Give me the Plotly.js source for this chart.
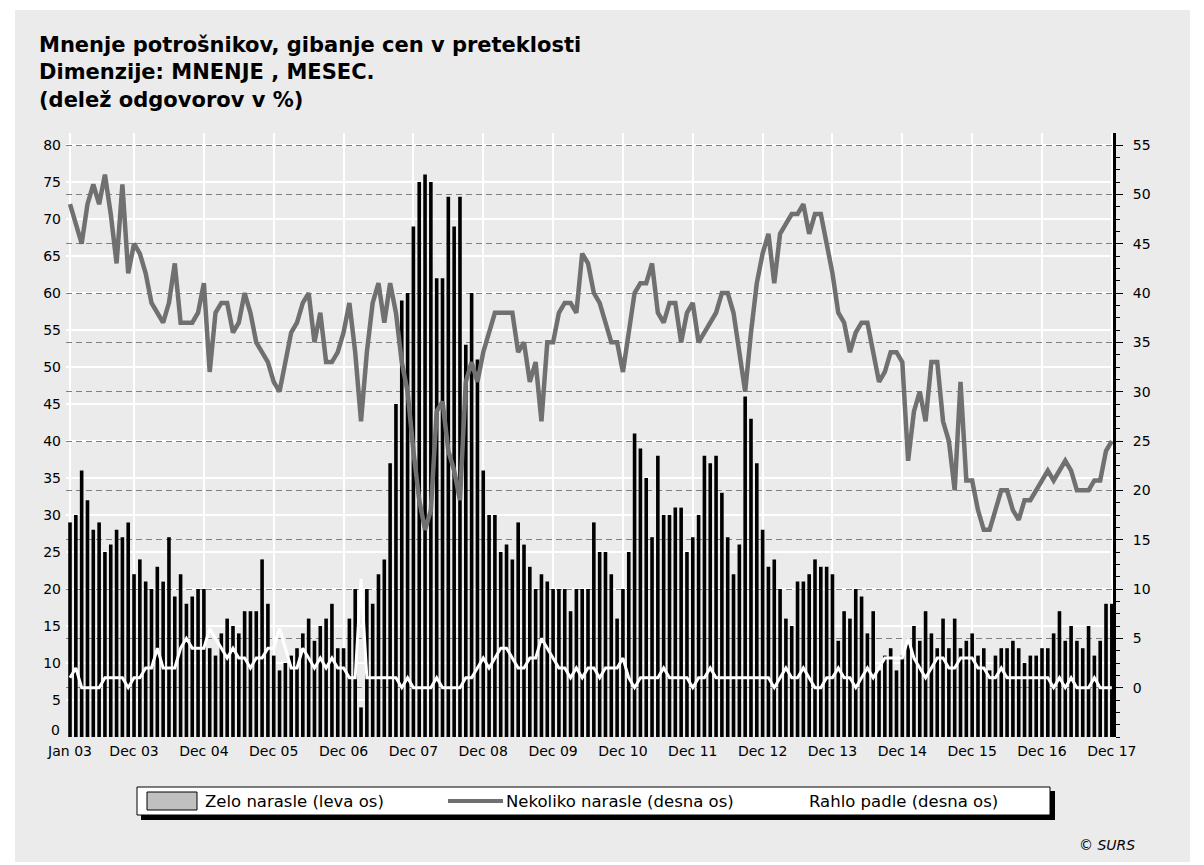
<!DOCTYPE html>
<html>
<head>
<meta charset="utf-8">
<script src="https://cdn.plot.ly/plotly-3.0.1.min.js"></script>
<style>html,body{margin:0;padding:0;background:#ffffff;}</style>
</head>
<body>
<div id="chart" style="width:1204px;height:865px;"></div>
<script>
// ---- Data (monthly, Jan 2003 – Dec 2017) ----
const zeloNarasle = [
  29,30,36,32,28,29,25,26,28,27,29,22,24,21,20,23,21,27,19,22,18,
  19,20,20,
  12,11,14,16,15,14,17,17,17,24,18,11,9,10,11,12,14,16,13,15,16,18,12,
  12,16,20,4,20,18,22,24,37,45,59,60,69,75,76,75,62,62,73,69,73,53,60,51,36,30,
  30,25,26,24,29,26,23,20,22,21,20,20,20,17,20,20,20,29,25,25,22,16,20,25,41,39,
  35,27,38,30,30,31,31,25,27,30,38,37,38,33,27,22,26,46,43,37,28,23,24,20,16,15,
  21,21,22,24,23,23,22,13,17,16,20,19,14,17,9,11,12,9,11,13,15,13,17,14,12,
  16,12,16,12,13,14,11,12,9,11,12,12,13,12,10,11,11,12,12,14,17,13,15,13,12,15,11,13,18,18
];
const nekolikoNarasle = [
  49,47,45,49,51,49,52,48,43,51,42,45,44,42,39,38,37,39,43,37,37,
  37,38,41,32,38,39,39,36,37,40,38,35,34,33,31,30,33,36,37,39,40,35,38,33,33,34,
  36,39,34,27,34,39,41,37,41,38,33,30,24,19,16,18,28,29,24,22,19,31,33,31,34,36,
  38,38,38,38,34,35,31,33,27,35,35,38,39,39,38,44,43,40,39,37,35,35,32,36,40,
  41,41,43,38,37,39,39,35,38,39,35,36,37,38,40,40,38,34,30,36,41,44,46,41,46,47,
  48,48,49,46,48,48,45,42,38,37,34,36,37,37,34,31,32,34,34,33,23,28,30,27,33,33,
  27,25,20,31,21,21,18,16,16,18,20,20,18,17,19,19,20,21,22,21,22,23,22,20,20,20,21,21,24,25
];
const rahloPadle = [
  1,2,0,0,0,0,1,1,1,1,0,1,1,2,2,4,2,2,2,4,5,
  4,4,4,6,5,4,3,4,3,3,2,3,3,4,4,6,4,2,2,4,3,2,3,2,3,2,
  2,1,1,11,1,1,1,1,1,1,0,1,0,0,0,0,1,0,0,0,0,1,1,2,3,2,
  3,4,4,3,2,2,3,3,5,4,3,2,2,1,2,1,2,2,1,2,2,2,3,1,0,
  1,1,1,1,2,1,1,1,1,0,1,1,2,1,1,1,1,1,1,1,1,1,1,0,1,2,
  1,1,2,1,0,0,1,1,2,1,1,0,1,2,1,2,3,3,3,3,5,3,2,1,2,3,
  3,2,2,3,3,3,2,2,1,1,2,1,1,1,1,1,1,1,1,0,1,0,1,0,0,0,1,0,0,0
];
const tickMonths = [0,11,23,35,47,59,71,83,95,107,119,131,143,155,167,179];
const tickLabels = ["Jan 03","Dec 03","Dec 04","Dec 05","Dec 06","Dec 07","Dec 08","Dec 09",
                    "Dec 10","Dec 11","Dec 12","Dec 13","Dec 14","Dec 15","Dec 16","Dec 17"];
const leftTicks = [5,10,15,20,25,30,35,40,45,50,55,60,65,70,75,80];
const leftZeroLabel = "0";
const rightTicks = [0,5,10,15,20,25,30,35,40,45,50,55];
const seriesNames = ["Zelo narasle (leva os)","Nekoliko narasle (desna os)","Rahlo padle (desna os)"];
const titleLines = ["Mnenje potrošnikov, gibanje cen v preteklosti","Dimenzije: MNENJE , MESEC.","(delež odgovorov v %)"];

const monthIdx = zeloNarasle.map((_, i) => i);

// ---- Layout geometry (pixels) ----
const W = 1204, H = 865;
const PL = 66, PR = 1113, PT = 133, PB = 737;
const FONT = "DejaVu Sans, Arial, sans-serif";
const px = v => (v - PL) / (PR - PL);
const py = v => (PB - v) / (PB - PT);

const traces = [
  {type:'bar', x: monthIdx, y: zeloNarasle, name: seriesNames[0], yaxis:'y',
   marker:{color:'#000000', line:{width:0}}, width:0.62, showlegend:false, hoverinfo:'y'},
  {type:'scatter', mode:'lines', x: monthIdx, y: nekolikoNarasle, name: seriesNames[1], yaxis:'y2',
   line:{color:'#707070', width:4.5}, showlegend:false},
  {type:'scatter', mode:'lines', x: monthIdx, y: rahloPadle, name: seriesNames[2], yaxis:'y2',
   line:{color:'#ffffff', width:3}, showlegend:false}
];

const shapes = [
  // outer grey panel
  {type:'rect', xref:'paper', yref:'paper', x0:px(15), x1:px(1190), y0:py(862), y1:py(10),
   fillcolor:'#ebebeb', line:{width:0}, layer:'below'},
  // legend shadow + box
  {type:'rect', xref:'paper', yref:'paper', x0:px(141), x1:px(1055), y0:py(820), y1:py(791),
   fillcolor:'#000000', line:{width:0}},
  {type:'rect', xref:'paper', yref:'paper', x0:px(137), x1:px(1050), y0:py(815), y1:py(787),
   fillcolor:'#ffffff', line:{color:'#000000', width:1}},
  // legend symbols
  {type:'rect', xref:'paper', yref:'paper', x0:px(147), x1:px(197), y0:py(810), y1:py(792),
   fillcolor:'#c0c0c0', line:{color:'#000000', width:1}},
  {type:'line', xref:'paper', yref:'paper', x0:px(448), x1:px(503), y0:py(801), y1:py(801),
   line:{color:'#707070', width:4}},
  {type:'line', xref:'paper', yref:'paper', x0:px(750), x1:px(805), y0:py(801), y1:py(801),
   line:{color:'#ffffff', width:3}}
];

const legFont = {family:FONT, size:16.5, color:'#000'};
const annotations = [
  {xref:'paper', yref:'paper', x:px(203), y:py(801), xanchor:'left', yanchor:'middle', showarrow:false,
   text:seriesNames[0], font:legFont},
  {xref:'paper', yref:'paper', x:px(504), y:py(801), xanchor:'left', yanchor:'middle', showarrow:false,
   text:seriesNames[1], font:legFont},
  {xref:'paper', yref:'paper', x:px(807), y:py(801), xanchor:'left', yanchor:'middle', showarrow:false,
   text:seriesNames[2], font:legFont},
  {xref:'paper', yref:'paper', x:px(1137), y:py(845), xanchor:'right', yanchor:'middle', showarrow:false,
   text:'<i>© SURS</i>', font:{family:FONT, size:14, color:'#000'}},
  // left-axis "0" label, lifted slightly (as in the reference) so it clears "Jan 03"
  {xref:'paper', yref:'y', x:0, y:0, xanchor:'right', yanchor:'bottom', xshift:-4, yshift:-3,
   showarrow:false, text:leftZeroLabel, font:{family:FONT, size:14, color:'#000'}}
];

const layout = {
  width: W, height: H,
  paper_bgcolor:'#ffffff', plot_bgcolor:'#dcdcdc',
  margin:{l:PL, r:W-PR, t:PT, b:H-PB, pad:0},
  title:{text: titleLines.join('<br>'), xref:'container', yref:'container',
         x: 39/W, xanchor:'left', y: 1 - 52/H, yanchor:'top',
         font:{family:FONT, size:21, color:'#000', weight:'bold'}},
  bargap:0.3,
  xaxis:{range:[-0.69, 179.2], tickmode:'array', tickvals:tickMonths, ticktext:tickLabels,
         showgrid:true, gridcolor:'#ffffff', gridwidth:2, zeroline:false, showline:false,
         ticks:'', ticklabelstandoff:4, tickfont:{family:FONT, size:14, color:'#000'}, fixedrange:true},
  yaxis:{range:[0, 81.62], tickmode:'array', tickvals:leftTicks, showgrid:true,
         gridcolor:'#ffffff', gridwidth:2, zeroline:false, showline:false, ticks:'',
         ticklabelstandoff:4, tickfont:{family:FONT, size:14, color:'#000'}},
  yaxis2:{overlaying:'y', side:'right', range:[-5, 56.22], tickmode:'array', tickvals:rightTicks,
          showgrid:true, gridcolor:'#808080', gridwidth:1, griddash:'6px,4px', zeroline:false,
          showline:true, linecolor:'#000000', linewidth:3, ticks:'outside', ticklen:7,
          tickcolor:'#000', tickwidth:1, ticklabelstandoff:7,
          minor:{dtick:1.25, tick0:0, ticks:'outside', ticklen:4, tickcolor:'#000', showgrid:false},
          tickfont:{family:FONT, size:14, color:'#000'}},
  shapes: shapes,
  annotations: annotations,
  showlegend:false
};

Plotly.newPlot('chart', traces, layout, {staticPlot:true, displayModeBar:false});
</script>
</body>
</html>
